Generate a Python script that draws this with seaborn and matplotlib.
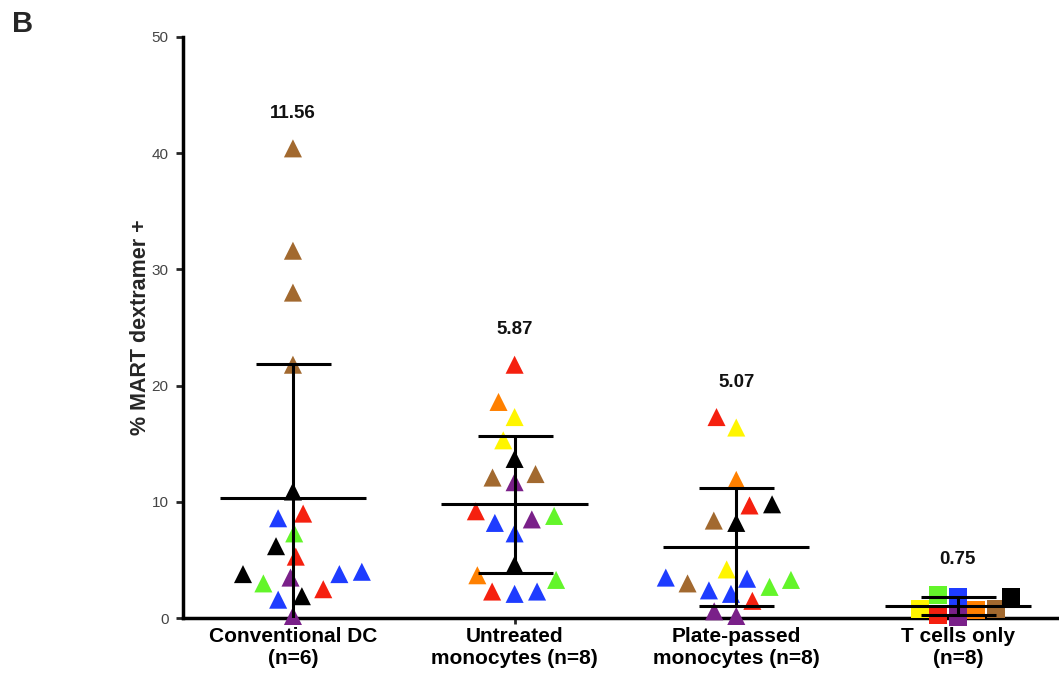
import numpy as np
import pandas as pd
import matplotlib
matplotlib.use("Agg")
import matplotlib.pyplot as plt
from matplotlib.collections import PathCollection
import seaborn as sns

# ---------------- data ----------------
categories = ["Conventional DC\n(n=6)", "Untreated\nmonocytes (n=8)",
              "Plate-passed\nmonocytes (n=8)", "T cells only\n(n=8)"]

dc_values = [40.4, 31.6, 28.0, 21.8, 10.9, 9.0, 8.6, 7.3, 6.2, 5.3, 4.0, 3.8,
             3.5, 3.8, 3.0, 2.5, 1.9, 1.6, 0.2]
dc_donors = ["brown", "brown", "brown", "brown", "black", "red", "blue", "green",
             "black", "red", "blue", "black", "purple", "blue", "green", "red",
             "black", "blue", "purple"]

untreated_values = [21.8, 18.6, 17.3, 15.3, 13.7, 12.1, 11.7, 12.4, 9.2, 8.5,
                    8.2, 8.8, 7.3, 4.6, 3.7, 3.3, 2.3, 2.1, 2.3]
untreated_donors = ["red", "orange", "yellow", "yellow", "black", "brown",
                    "purple", "brown", "red", "purple", "blue", "green", "blue",
                    "black", "orange", "green", "blue", "blue", "red"]

plate_values = [17.3, 16.4, 11.9, 9.8, 9.7, 8.4, 8.2, 4.2, 3.3, 3.5, 2.7, 2.4,
                3.0, 3.4, 2.1, 1.5, 0.2, 0.6]
plate_donors = ["red", "yellow", "orange", "black", "red", "brown", "black",
                "yellow", "green", "blue", "green", "blue", "brown", "blue",
                "blue", "red", "purple", "purple"]

tcell_values = [0.83, 0.69, 1.83, 0.11, 2.03, 0.26, 0.77, 1.83]
tcell_donors = ["yellow", "orange", "blue", "purple", "green", "red", "brown",
                "black"]

group_means = [10.3, 9.8, 6.1, 1.05]
group_sds = [11.56, 5.87, 5.07, 0.75]

donor_palette = {
    "brown": "#A2692F", "black": "#000000", "red": "#F5200F",
    "blue": "#1E3CFF", "green": "#63F52A", "purple": "#7A2089",
    "orange": "#FF8000", "yellow": "#FFF500",
}

# ---------------- tables ----------------
tri = pd.concat([
    pd.DataFrame({"group": categories[0], "value": dc_values, "donor": dc_donors}),
    pd.DataFrame({"group": categories[1], "value": untreated_values, "donor": untreated_donors}),
    pd.DataFrame({"group": categories[2], "value": plate_values, "donor": plate_donors}),
], ignore_index=True)
sq = pd.DataFrame({"group": categories[3], "value": tcell_values, "donor": tcell_donors})

# ---------------- style ----------------
sns.set_style("ticks")
plt.rcParams["font.family"] = ["Liberation Sans", "DejaVu Sans"]

W, H = 1059, 677
fig = plt.figure(figsize=(W / 100, H / 100), dpi=100)
ax = fig.add_axes([183 / W, (H - 618.3) / H, 876 / W, 581.6 / H])

MARK_SIZE = 13       # drawn marker size (points)

sns.swarmplot(data=tri, x="group", y="value", hue="donor", palette=donor_palette,
              order=categories, marker="^", size=15.5, linewidth=0,
              legend=False, ax=ax, zorder=3, clip_on=False)
sns.swarmplot(data=sq, x="group", y="value", hue="donor", palette=donor_palette,
              order=categories, marker="s", size=13.5, linewidth=0,
              legend=False, ax=ax, zorder=3, clip_on=False)

ax.set_xlim(-0.496, 3.456)
ax.set_ylim(0, 50)

# let seaborn compute the swarm layout, then freeze it and set the drawn size
fig.canvas.draw()
for coll in ax.collections:
    if isinstance(coll, PathCollection):
        if "draw" in coll.__dict__:
            del coll.draw
        coll.set_sizes([MARK_SIZE ** 2])

xs = np.arange(len(categories))
ax.errorbar(xs, group_means, yerr=group_sds, fmt="none", ecolor="black",
            elinewidth=2.2, capsize=27, capthick=2.2, zorder=6)
ax.hlines(group_means, xs - 0.33, xs + 0.33, colors="black", lw=2.2, zorder=6)

groups_vals = [dc_values, untreated_values, plate_values, tcell_values]
for i, (vals, sd) in enumerate(zip(groups_vals, group_sds)):
    ax.text(i, max(vals) + 3.0, f"{sd:.2f}", ha="center", va="center",
            fontsize=13.5, fontweight="bold", color="#111111")

ax.set_xlim(-0.496, 3.456)
ax.set_ylim(0, 50)
ax.set_yticks([0, 10, 20, 30, 40, 50])
ax.set_xlabel("")
ax.set_ylabel("% MART dextramer +", fontsize=15.5, fontweight="bold")
ax.yaxis.set_label_coords((151 - 183) / 876, 0.5)

for s in ["top", "right"]:
    ax.spines[s].set_visible(False)
for s in ["left", "bottom"]:
    ax.spines[s].set_linewidth(2.5)
    ax.spines[s].set_color("black")

ax.tick_params(axis="y", length=5, width=2, pad=5.5, labelsize=11,
               labelcolor="#444444")
ax.tick_params(axis="x", length=4, width=2, pad=2.5)
for lab in ax.get_xticklabels():
    lab.set_fontsize(15)
    lab.set_fontweight("bold")
    lab.set_color("black")

fig.text(12 / W, 1 - 32 / H, "B", fontsize=21, fontweight="bold", va="baseline")

fig.savefig("out.png", dpi=100)
